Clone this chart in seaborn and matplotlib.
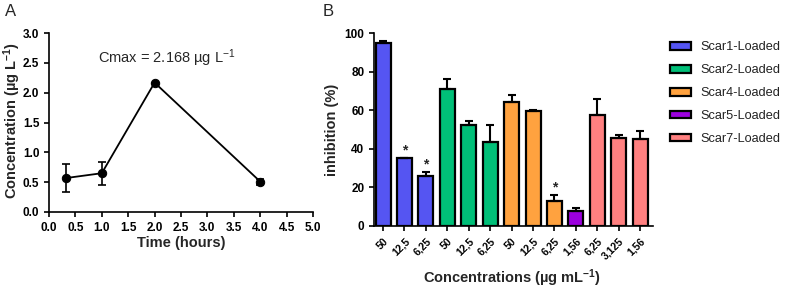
import numpy as np
import pandas as pd
import matplotlib
matplotlib.use("Agg")
import matplotlib.pyplot as plt
import seaborn as sns

# Panel A: pharmacokinetic curve
time_h = [0.33, 1.0, 2.0, 4.0]
conc = [0.57, 0.65, 2.168, 0.51]
conc_err = [0.23, 0.19, 0.0, 0.05]

# Panel B: inhibition per formulation / concentration
groups = ["Scar1-Loaded"] * 3 + ["Scar2-Loaded"] * 3 + ["Scar4-Loaded"] * 3 + \
         ["Scar5-Loaded"] + ["Scar7-Loaded"] * 3
conc_labels = ["50", "12,5", "6,25", "50", "12,5", "6,25", "50", "12,5", "6,25",
               "1,56", "6,25", "3,125", "1,56"]
inhibition = [94.8, 35.0, 26.0, 71.0, 52.5, 43.5, 64.5, 59.5, 12.8, 8.0, 57.7, 45.7, 45.0]
inhib_err = [0.8, 0.4, 2.0, 5.0, 2.0, 9.0, 3.2, 0.4, 3.2, 1.5, 8.0, 1.6, 4.0]
significant = [False, True, True, False, False, False, False, False, True,
               False, False, False, False]

palette = {"Scar1-Loaded": "#5555F2", "Scar2-Loaded": "#00BF78",
           "Scar4-Loaded": "#FFA23F", "Scar5-Loaded": "#9C00DE",
           "Scar7-Loaded": "#FF8080"}

sns.set_style("ticks")
plt.rcParams["font.family"] = ["Liberation Sans", "DejaVu Sans"]
plt.rcParams.update({
    "mathtext.fontset": "custom",
    "mathtext.rm": "Liberation Sans",
    "mathtext.it": "Liberation Sans:italic",
    "mathtext.bf": "Liberation Sans:bold",
    "axes.linewidth": 1.2,
    "xtick.major.width": 1.2,
    "ytick.major.width": 1.2,
    "xtick.major.size": 3.5,
    "ytick.major.size": 3.5,
    "xtick.color": "black",
    "ytick.color": "black",
    "axes.edgecolor": "black",
})

W, H = 789, 292
fig = plt.figure(figsize=(W / 100, H / 100), dpi=100)


def px_axes(left, right, top, bottom):
    return fig.add_axes([left / W, 1 - bottom / H, (right - left) / W, (bottom - top) / H])


# ---------------- Panel A ----------------
axA = px_axes(49, 313, 33, 212)
dfA = pd.DataFrame({"time": time_h, "conc": conc})
sns.lineplot(data=dfA, x="time", y="conc", ax=axA, color="black", linewidth=1.3,
             marker="o", markersize=6, markeredgecolor="black", errorbar=None)
axA.errorbar(time_h, conc, yerr=conc_err, fmt="none", ecolor="black",
             elinewidth=1.2, capsize=3, capthick=1.2)
axA.set_xlim(0, 5)
axA.set_ylim(0, 3)
axA.set_xticks(np.arange(0, 5.01, 0.5))
axA.set_yticks(np.arange(0, 3.01, 0.5))
axA.set_xticklabels([f"{v:.1f}" for v in np.arange(0, 5.01, 0.5)], fontsize=8.5, fontweight="bold")
axA.set_yticklabels([f"{v:.1f}" for v in np.arange(0, 3.01, 0.5)], fontsize=8.5, fontweight="bold")
axA.set_xlabel("Time (hours)", fontsize=10.5, fontweight="bold")
axA.set_ylabel(r"Concentration (µg L$^{\mathbf{-1}}$)", fontsize=10.5, fontweight="bold")
axA.xaxis.set_label_coords(0.5, -0.135)
axA.yaxis.set_label_coords(-0.1, 0.51)
axA.text(0.93, 2.58, r"Cmax = 2.168 µg L$^{-1}$", fontsize=10.5, ha="left", va="center")
sns.despine(ax=axA)
fig.text(5 / W, 1 - 11 / H, "A", fontsize=12, ha="left", va="center")

# ---------------- Panel B ----------------
axB = px_axes(374, 653, 33, 226)
slots = [str(i) for i in range(len(inhibition))]
dfB = pd.DataFrame({"slot": slots, "group": groups, "inhibition": inhibition})
sns.barplot(data=dfB, x="slot", y="inhibition", hue="group", order=slots,
            palette=palette, dodge=False, width=0.7, saturation=1,
            edgecolor="black", linewidth=1.6, ax=axB, errorbar=None)
xpos = np.arange(len(inhibition))
axB.errorbar(xpos, inhibition, yerr=[np.zeros(len(inhib_err)), inhib_err], fmt="none",
             ecolor="black", elinewidth=1.5, capsize=3, capthick=1.5)
for x, y, e, s in zip(xpos, inhibition, inhib_err, significant):
    if s:
        axB.text(x, y + e + 0.3, "*", ha="center", va="bottom", fontsize=10, fontweight="bold")
axB.set_xlim(-0.42, 12.6)
axB.set_ylim(0, 100)
axB.set_yticks(np.arange(0, 101, 20))
axB.set_yticklabels([str(v) for v in range(0, 101, 20)], fontsize=8.5, fontweight="bold")
axB.set_xticks(xpos)
axB.set_xticklabels(conc_labels, fontsize=7.5, fontweight="bold")
for lbl in axB.get_xticklabels():
    lbl.set_rotation(45)
    lbl.set_ha("right")
    lbl.set_va("top")
    lbl.set_rotation_mode("anchor")
axB.set_xlabel(r"Concentrations (µg mL$^{\mathbf{-1}}$)", fontsize=10.5, fontweight="bold")
axB.set_ylabel("inhibition (%)", fontsize=10.5, fontweight="bold")
axB.xaxis.set_label_coords(0.495, -0.215)
axB.yaxis.set_label_coords(-0.125, 0.5)
sns.despine(ax=axB)

handles, labels = axB.get_legend_handles_labels()
axB.legend(handles, labels, loc="upper left", bbox_to_anchor=(658 / W, 1 - 30 / H),
           bbox_transform=fig.transFigure, frameon=False, fontsize=9.2,
           handlelength=1.7, handleheight=0.55, handletextpad=0.7, labelspacing=0.85,
           labelcolor="#222222")
fig.text(323 / W, 1 - 11 / H, "B", fontsize=12, ha="left", va="center")

fig.savefig("out.png", dpi=100)
